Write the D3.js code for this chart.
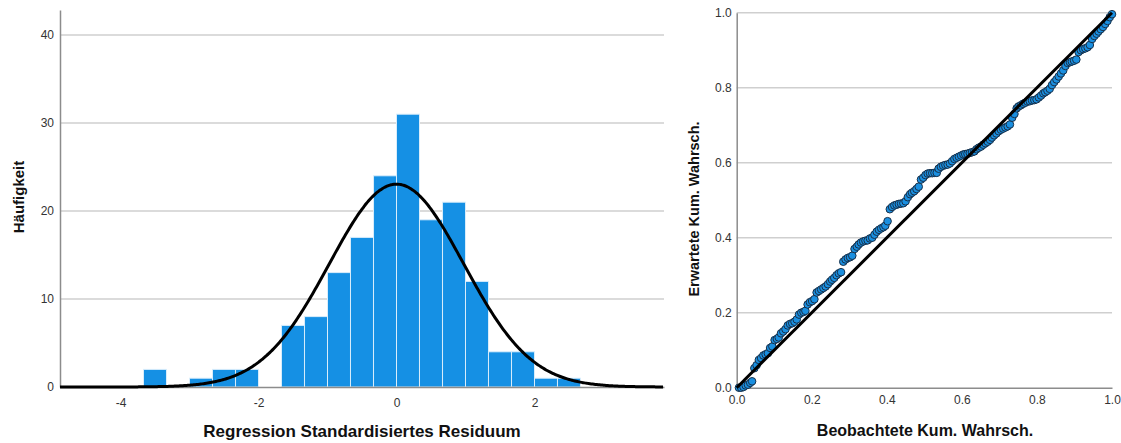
<!DOCTYPE html>
<html>
<head>
<meta charset="utf-8">
<script src="https://cdn.jsdelivr.net/npm/d3@7"></script>
<style>
  html, body { margin: 0; padding: 0; background: #fff; }
  svg { display: block; font-family: "Liberation Sans", Arial, sans-serif; }
</style>
</head>
<body>
<svg id="chart" width="1121" height="443"></svg>
<script>
// ---------- Histogram data ----------
const binLow = [-3.667, -3, -2.667, -2.333, -1.667, -1.333, -1, -0.667, -0.333, 0, 0.333, 0.667, 1, 1.333, 1.667, 2, 2.333];
const binCounts = [2, 1, 2, 2, 7, 8, 13, 17, 24, 31, 19, 21, 12, 4, 4, 1, 1];
const binWidth = 1 / 3;
const histXTicks = [-4, -2, 0, 2];
const histYTicks = [0, 10, 20, 30, 40];
const normalMean = 0;
const normalSD = 0.975;
const sampleN = 169;

// ---------- P-P plot data (observed, expected) ----------
const ppObserved = [
0.006,0.012,0.018,0.024,0.030,0.036,0.041,0.047,0.053,0.059,0.065,0.071,0.077,0.083,0.089,0.095,0.101,0.107,0.112,0.118,
0.124,0.130,0.136,0.142,0.148,0.154,0.160,0.166,0.172,0.178,0.183,0.189,0.195,0.201,0.207,0.213,0.219,0.225,0.231,0.237,
0.243,0.249,0.254,0.260,0.266,0.272,0.278,0.284,0.290,0.296,0.302,0.308,0.314,0.320,0.325,0.331,0.337,0.343,0.349,0.355,
0.361,0.367,0.373,0.379,0.385,0.391,0.396,0.402,0.408,0.414,0.420,0.426,0.432,0.438,0.444,0.450,0.456,0.462,0.467,0.473,
0.479,0.485,0.491,0.497,0.503,0.509,0.515,0.521,0.527,0.533,0.538,0.544,0.550,0.556,0.562,0.568,0.574,0.580,0.586,0.592,
0.598,0.604,0.609,0.615,0.621,0.627,0.633,0.639,0.645,0.651,0.657,0.663,0.669,0.675,0.680,0.686,0.692,0.698,0.704,0.710,
0.716,0.722,0.728,0.734,0.740,0.746,0.751,0.757,0.763,0.769,0.775,0.781,0.787,0.793,0.799,0.805,0.811,0.817,0.822,0.828,
0.834,0.840,0.846,0.852,0.858,0.864,0.870,0.876,0.882,0.888,0.893,0.899,0.905,0.911,0.917,0.923,0.929,0.935,0.941,0.947,
0.953,0.959,0.964,0.970,0.976,0.982,0.988,0.994,1.000];
const ppExpected = [
0.000,0.000,0.002,0.006,0.008,0.013,0.017,0.052,0.060,0.074,0.079,0.086,0.089,0.092,0.106,0.110,0.127,0.130,0.134,0.145,
0.150,0.156,0.166,0.170,0.172,0.176,0.182,0.195,0.200,0.202,0.205,0.222,0.228,0.231,0.236,0.254,0.258,0.262,0.266,0.270,
0.276,0.283,0.288,0.293,0.300,0.305,0.308,0.336,0.342,0.346,0.348,0.352,0.370,0.376,0.382,0.387,0.390,0.392,0.393,0.398,
0.400,0.408,0.416,0.421,0.425,0.428,0.432,0.444,0.476,0.482,0.486,0.488,0.490,0.491,0.492,0.497,0.508,0.516,0.520,0.524,
0.530,0.536,0.555,0.560,0.567,0.571,0.572,0.572,0.573,0.573,0.584,0.589,0.592,0.594,0.595,0.598,0.604,0.610,0.613,0.616,
0.619,0.622,0.623,0.624,0.626,0.628,0.630,0.636,0.640,0.643,0.648,0.652,0.656,0.661,0.667,0.673,0.678,0.684,0.688,0.691,
0.694,0.697,0.702,0.720,0.730,0.745,0.750,0.753,0.757,0.760,0.763,0.764,0.766,0.767,0.769,0.774,0.779,0.785,0.788,0.792,
0.797,0.807,0.815,0.822,0.830,0.838,0.846,0.858,0.866,0.868,0.870,0.872,0.875,0.895,0.900,0.903,0.905,0.908,0.914,0.930,
0.938,0.944,0.950,0.956,0.962,0.970,0.978,0.988,0.996];
const ppTicks = [0, 0.2, 0.4, 0.6, 0.8, 1.0];
const ppGrid = [0.2, 0.4, 0.6, 0.8, 1.0];

// ---------- Drawing ----------
const svg = d3.select("#chart");
const gridColor = "#cfcfcf";
const axisColor = "#8c8c8c";
const barColor = "#1590e4";
const labelColor = "#333";
const fontFam = "Liberation Sans, Arial, sans-serif";

// ===== Left: histogram =====
const xL = d3.scaleLinear().domain([-4.877, 3.877]).range([60, 664]);
const yL = d3.scaleLinear().domain([0, 42.84]).range([387, 10]);

const gL = svg.append("g");
gL.selectAll("line.grid").data(histYTicks.filter(d => d > 0)).join("line")
  .attr("x1", xL.range()[0]).attr("x2", xL.range()[1])
  .attr("y1", d => yL(d)).attr("y2", d => yL(d))
  .attr("stroke", gridColor).attr("stroke-width", 1.5);

gL.selectAll("rect.bar").data(binLow.map((b, i) => ({ lo: b, n: binCounts[i] }))).join("rect")
  .attr("x", d => xL(d.lo)).attr("width", d => xL(d.lo + binWidth) - xL(d.lo))
  .attr("y", d => yL(d.n)).attr("height", d => yL(0) - yL(d.n))
  .attr("fill", barColor).attr("stroke", "#d9edfb").attr("stroke-width", 1);

const plainFmt = d => String(d);

const axL = gL.append("g").attr("transform", `translate(${xL.range()[0]},0)`)
  .call(d3.axisLeft(yL).tickValues(histYTicks).tickSize(0).tickPadding(6).tickFormat(plainFmt));
axL.select(".domain").attr("stroke", axisColor).attr("stroke-width", 1.5);
axL.selectAll("text").attr("font-size", 12).attr("fill", labelColor).attr("font-family", fontFam);

const axB = gL.append("g").attr("transform", `translate(0,${yL(0)})`)
  .call(d3.axisBottom(xL).tickValues(histXTicks).tickSize(0).tickPadding(11).tickFormat(plainFmt));
axB.select(".domain").attr("stroke", axisColor).attr("stroke-width", 1.5);
axB.selectAll("text").attr("font-size", 12).attr("fill", labelColor).attr("font-family", fontFam);

// normal curve
const curveXs = d3.range(xL.domain()[0], xL.domain()[1] + 0.001, 0.02);
const dens = x => sampleN * binWidth / (normalSD * Math.sqrt(2 * Math.PI)) * Math.exp(-0.5 * Math.pow((x - normalMean) / normalSD, 2));
gL.append("path").datum(curveXs)
  .attr("d", d3.line().x(d => xL(d)).y(d => yL(dens(d))).curve(d3.curveBasis))
  .attr("fill", "none").attr("stroke", "#000").attr("stroke-width", 3);

gL.append("text").attr("x", 362).attr("y", 437).attr("text-anchor", "middle")
  .attr("font-size", 17).attr("font-weight", "bold").attr("fill", "#111")
  .text("Regression Standardisiertes Residuum");
gL.append("text").attr("transform", "translate(24,197) rotate(-90)").attr("text-anchor", "middle")
  .attr("font-size", 15).attr("font-weight", "bold").attr("fill", "#111")
  .text("Häufigkeit");

// ===== Right: P-P plot =====
const xR = d3.scaleLinear().domain([0, 1]).range([736.7, 1112]);
const yR = d3.scaleLinear().domain([0, 1]).range([387.7, 12.7]);
const gR = svg.append("g");

gR.selectAll("line.grid").data(ppGrid).join("line")
  .attr("x1", xR(0)).attr("x2", xR(1))
  .attr("y1", d => yR(d)).attr("y2", d => yR(d))
  .attr("stroke", gridColor).attr("stroke-width", 1.5);

const axRL = gR.append("g").attr("transform", `translate(${xR(0)},0)`)
  .call(d3.axisLeft(yR).tickValues(ppTicks).tickSize(0).tickPadding(5).tickFormat(d3.format(".1f")));
axRL.select(".domain").attr("stroke", axisColor).attr("stroke-width", 1.5);
axRL.selectAll("text").attr("font-size", 12).attr("fill", labelColor).attr("font-family", fontFam);

const axRB = gR.append("g").attr("transform", `translate(0,${yR(0)})`)
  .call(d3.axisBottom(xR).tickValues(ppTicks).tickSize(0).tickPadding(8).tickFormat(d3.format(".1f")));
axRB.select(".domain").attr("stroke", axisColor).attr("stroke-width", 1.5);
axRB.selectAll("text").attr("font-size", 12).attr("fill", labelColor).attr("font-family", fontFam);

gR.selectAll("circle.pt").data(ppObserved.map((o, i) => [o, ppExpected[i]])).join("circle")
  .attr("cx", d => xR(d[0])).attr("cy", d => yR(d[1])).attr("r", 3.8)
  .attr("fill", "#1a8fe0").attr("stroke", "#17304a").attr("stroke-width", 1);

gR.append("line")
  .attr("x1", xR(0)).attr("y1", yR(0)).attr("x2", xR(1)).attr("y2", yR(1))
  .attr("stroke", "#000").attr("stroke-width", 3);

gR.append("text").attr("x", 925).attr("y", 436).attr("text-anchor", "middle")
  .attr("font-size", 16).attr("font-weight", "bold").attr("fill", "#111")
  .text("Beobachtete Kum. Wahrsch.");
gR.append("text").attr("transform", "translate(699,209) rotate(-90)").attr("text-anchor", "middle")
  .attr("font-size", 14.5).attr("font-weight", "bold").attr("fill", "#111")
  .text("Erwartete Kum. Wahrsch.");
</script>
</body>
</html>
